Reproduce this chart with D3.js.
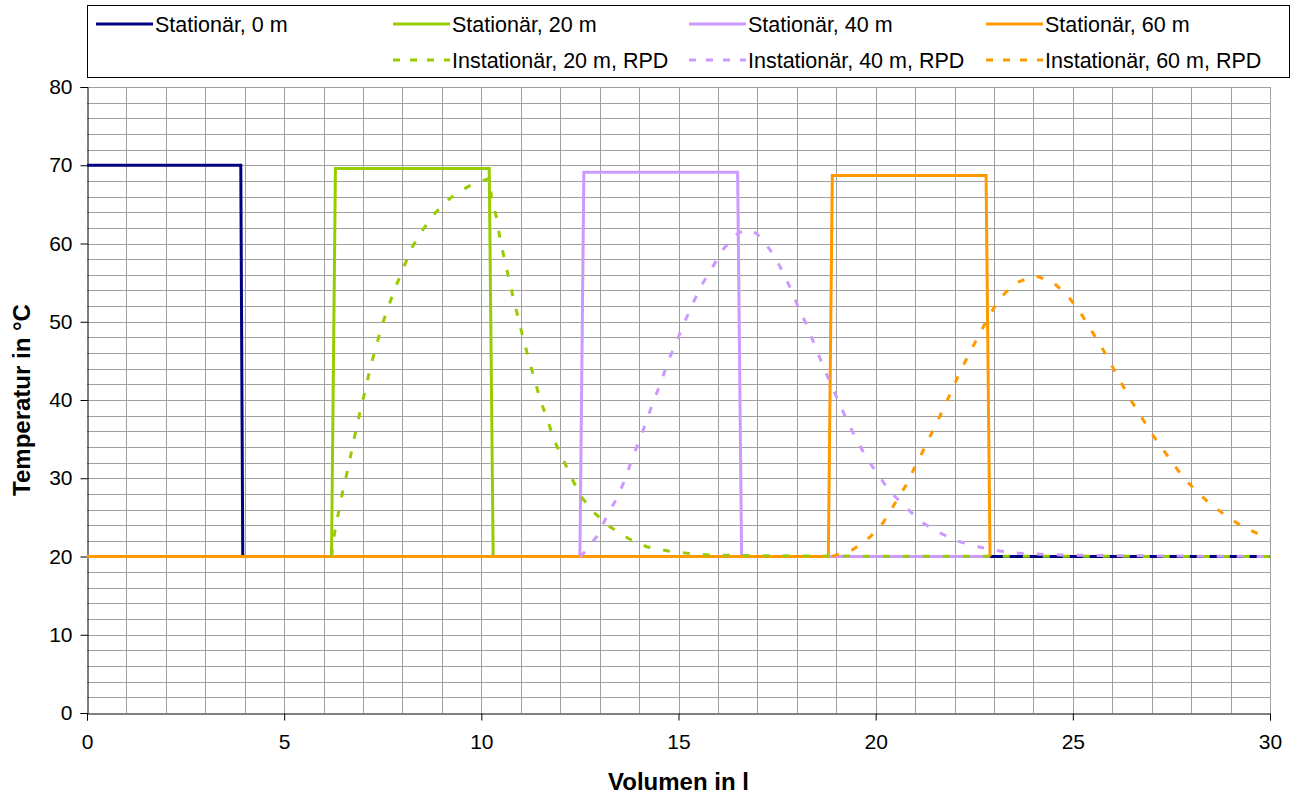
<!DOCTYPE html>
<html>
<head>
<meta charset="utf-8">
<script src="https://cdn.jsdelivr.net/npm/d3@7"></script>
<style>
  body { margin: 0; background: #fff; }
  svg { display: block; font-family: "Liberation Sans", Arial, sans-serif; }
</style>
</head>
<body>
<div id="chart"></div>
<script>
// stationary series (step profiles)
const s0x = [0, 3.9, 3.95, 30];
const s0y = [70, 70, 20, 20];
const s20x = [0, 6.2, 6.3, 10.2, 10.3, 16];
const s20y = [20, 20, 69.6, 69.6, 20, 20];
const s40x = [0, 12.5, 12.6, 16.5, 16.6, 22.9];
const s40y = [20, 20, 69.1, 69.1, 20, 20];
const s60x = [0, 18.8, 18.9, 22.8, 22.9];
const s60y = [20, 20, 68.7, 68.7, 20];

// instationary series (RPD)
const i20x = [6.2, 6.29, 6.4, 6.5, 6.63, 6.73, 6.84, 6.95, 7.08, 7.19, 7.33, 7.47, 7.64, 7.83, 8.02, 8.23, 8.51, 8.83, 9.21, 9.67, 10.13, 10.2,
              10.26, 10.39, 10.47, 10.58, 10.7, 10.81, 10.94, 11.06, 11.2, 11.34, 11.49, 11.66, 11.87, 12.04, 12.29, 12.54, 12.84, 13.26, 13.73, 14.19, 14.74, 15.25, 15.75, 17, 19, 30];
const i20y = [20, 23.4, 26.2, 28.7, 31.5, 34, 36.6, 39.1, 41.7, 44.3, 46.8, 49.4, 51.9, 54.5, 56.8, 59.4, 61.7, 63.9, 65.8, 67.3, 68.2, 68.3,
              65.8, 63.2, 60.7, 58.1, 55.5, 53, 50.4, 47.9, 45.3, 42.8, 40.1, 37.7, 34.6, 32.8, 30, 27.6, 25.7, 23.8, 22.3, 21.25, 20.7, 20.4, 20.2, 20.1, 20.05, 20];
const i40x = [12.5, 12.59, 12.92, 13.18, 13.43, 13.64, 13.81, 14.01, 14.18, 14.36, 14.56, 14.73, 14.94, 15.14, 15.36, 15.59, 15.84, 16.14, 16.45, 16.7,
              16.98, 17.32, 17.58, 17.81, 18.02, 18.23, 18.44, 18.63, 18.84, 19.06, 19.27, 19.52, 19.77, 20.07, 20.36, 20.75, 21.13, 21.59, 22.05, 22.6, 23.15, 23.66, 24.17, 24.68, 26, 30];
const i40y = [20, 20.4, 22.5, 25.1, 27.4, 29.8, 32.3, 34.9, 37.2, 39.8, 42.3, 44.9, 47.3, 49.8, 52.3, 54.7, 56.8, 59.3, 61.1, 61.8,
              61.3, 59.2, 57, 54.6, 52.1, 49.8, 47.2, 44.8, 42.3, 39.8, 37.4, 34.9, 32.6, 30.4, 28.3, 26.4, 24.5, 23.1, 22, 21.25, 20.7, 20.4, 20.3, 20.2, 20.1, 20];
const i60x = [18.9, 19.01, 19.43, 19.86, 20.2, 20.49, 20.77, 21, 21.23, 21.46, 21.7, 21.93, 22.14, 22.38, 22.62, 22.86, 23.15, 23.53, 24.04,
              24.51, 24.89, 25.2, 25.48, 25.76, 26.01, 26.27, 26.53, 26.83, 27.11, 27.41, 27.74, 28.08, 28.49, 28.91, 29.35, 29.83, 30];
const i60y = [20, 20.2, 20.9, 22.5, 24.4, 26.8, 29.1, 31.5, 33.8, 36.2, 38.7, 41.2, 43.6, 46, 48.3, 50.6, 53, 54.9, 55.9,
              55, 53.2, 51.1, 48.8, 46.5, 44.2, 41.8, 39.5, 37.1, 34.9, 32.8, 30.5, 28.6, 26.7, 25.1, 23.7, 22.6, 22.3];

const xTicks = [0, 5, 10, 15, 20, 25, 30];
const yTicks = [0, 10, 20, 30, 40, 50, 60, 70, 80];

const series = [
  { name: "Stationär, 0 m", xs: s0x, ys: s0y, color: "#000080", dash: null, col: 0, row: 0 },
  { name: "Stationär, 20 m", xs: s20x, ys: s20y, color: "#99cc00", dash: null, col: 1, row: 0 },
  { name: "Stationär, 40 m", xs: s40x, ys: s40y, color: "#cc99ff", dash: null, col: 2, row: 0 },
  { name: "Stationär, 60 m", xs: s60x, ys: s60y, color: "#ff9900", dash: null, col: 3, row: 0 },
  { name: "Instationär, 20 m, RPD", xs: i20x, ys: i20y, color: "#99cc00", dash: "7,13", col: 1, row: 1 },
  { name: "Instationär, 40 m, RPD", xs: i40x, ys: i40y, color: "#cc99ff", dash: "7,13", col: 2, row: 1 },
  { name: "Instationär, 60 m, RPD", xs: i60x, ys: i60y, color: "#ff9900", dash: "7,13", col: 3, row: 1 }
];

const width = 1298,
      height = 794,
      margin = ({ top: 87, right: 28, bottom: 81, left: 87 });

let svg = d3.select("#chart")
    .append("svg")
    .attr("width", width)
    .attr("height", height);

let x = d3.scaleLinear()
    .domain([0, 30])
    .range([margin.left, width - margin.right]);

let y = d3.scaleLinear()
    .domain([0, 80])
    .range([height - margin.bottom, margin.top]);

// grid: vertical every 1, horizontal every 2
svg.append("g")
    .selectAll("line")
    .data(d3.range(1, 31))
    .join("line")
    .attr("x1", d => Math.round(x(d)) + 0.5)
    .attr("x2", d => Math.round(x(d)) + 0.5)
    .attr("y1", y(80))
    .attr("y2", y(0))
    .attr("stroke", "#a0a0a0")
    .attr("stroke-width", 1);

svg.append("g")
    .selectAll("line")
    .data(d3.range(2, 82, 2))
    .join("line")
    .attr("x1", x(0))
    .attr("x2", x(30))
    .attr("y1", d => Math.round(y(d)) + 0.5)
    .attr("y2", d => Math.round(y(d)) + 0.5)
    .attr("stroke", "#a0a0a0")
    .attr("stroke-width", 1);

// axes
svg.append("g")
    .attr("transform", `translate(0,${Math.round(y(0)) + 0.5})`)
    .call(d3.axisBottom(x).tickValues(xTicks).tickSize(7).tickPadding(14))
    .call(g => g.selectAll("path, line").attr("stroke", "#000"))
    .call(g => g.selectAll("text").attr("font-size", 21).attr("fill", "#000").attr("font-family", "Liberation Sans, Arial, sans-serif"));

svg.append("g")
    .attr("transform", `translate(${Math.round(x(0)) + 0.5},0)`)
    .call(d3.axisLeft(y).tickValues(yTicks).tickSize(7).tickPadding(8))
    .call(g => g.selectAll("path, line").attr("stroke", "#000"))
    .call(g => g.selectAll("text").attr("font-size", 21).attr("fill", "#000").attr("font-family", "Liberation Sans, Arial, sans-serif"));

let line = d3.line()
    .x(d => x(d[0]))
    .y(d => y(d[1]));

svg.append("g")
    .selectAll("path")
    .data(series)
    .join("path")
    .attr("d", s => line(d3.zip(s.xs, s.ys)))
    .attr("fill", "none")
    .attr("stroke", s => s.color)
    .attr("stroke-width", 3)
    .attr("stroke-dasharray", s => s.dash)
    .attr("stroke-linejoin", "miter");

// legend
let legend = svg.append("g");
legend.append("rect")
    .attr("x", 87.5)
    .attr("y", 5.5)
    .attr("width", 1202)
    .attr("height", 72)
    .attr("fill", "#fff")
    .attr("stroke", "#000");

const colX = [96, 393, 689, 986],
      rowY = [24, 60];

let item = legend.selectAll(".item")
    .data(series)
    .join("g")
    .attr("class", "item")
    .attr("transform", s => `translate(${colX[s.col]},${rowY[s.row]})`);

item.append("line")
    .attr("x1", 0)
    .attr("x2", 57)
    .attr("stroke", s => s.color)
    .attr("stroke-width", 3)
    .attr("stroke-dasharray", s => s.dash ? "7,10" : null);

item.append("text")
    .attr("x", 59)
    .attr("dy", "0.35em")
    .attr("font-size", 21.5)
    .text(s => s.name);

// axis titles
svg.append("text")
    .attr("x", (x(0) + x(30)) / 2)
    .attr("y", 790)
    .attr("text-anchor", "middle")
    .attr("font-weight", "bold")
    .attr("font-size", 24)
    .text("Volumen in l");

svg.append("text")
    .attr("transform", `translate(30,${(y(0) + y(80)) / 2}) rotate(-90)`)
    .attr("text-anchor", "middle")
    .attr("font-weight", "bold")
    .attr("font-size", 24)
    .text("Temperatur in °C");
</script>
</body>
</html>
